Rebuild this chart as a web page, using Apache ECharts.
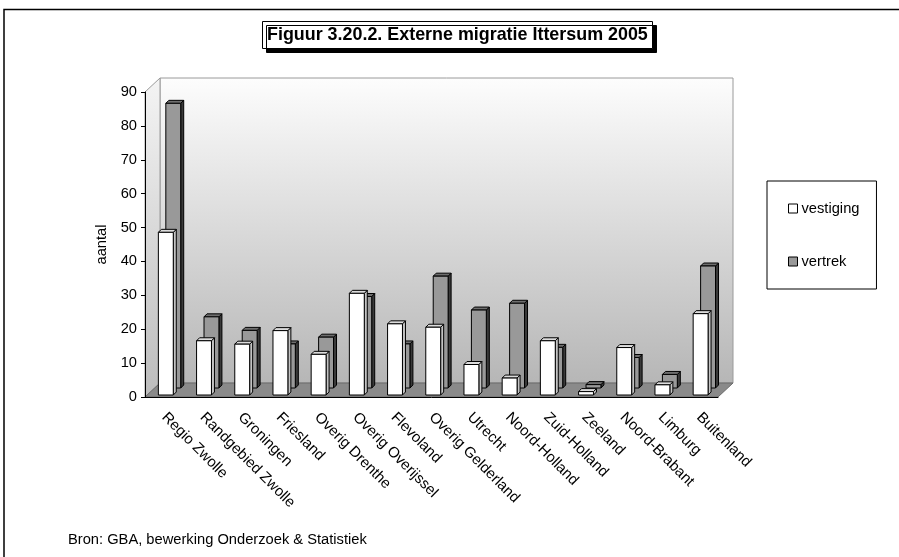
<!DOCTYPE html>
<html>
<head>
<meta charset="utf-8">
<script src="https://cdn.jsdelivr.net/npm/echarts@6/dist/echarts.min.js"></script>
<style>html,body{margin:0;padding:0;background:#fff}#c{width:899px;height:557px}</style>
</head>
<body>
<div id="c"></div>
<script>
var categories = ['Regio Zwolle','Randgebied Zwolle','Groningen','Friesland','Overig Drenthe','Overig Overijssel','Flevoland','Overig Gelderland','Utrecht','Noord-Holland','Zuid-Holland','Zeeland','Noord-Brabant','Limburg','Buitenland'];
var vestiging = [48, 16, 15, 19, 12, 30, 21, 20, 9, 5, 16, 1, 14, 3, 24];
var vertrek = [84, 21, 17, 13, 15, 27, 13, 33, 23, 25, 12, 1, 9, 4, 36];
var yTicks = [0, 10, 20, 30, 40, 50, 60, 70, 80, 90];

var FONT = '"Liberation Sans", Arial, sans-serif';
var GL = 145, GT = 92, GR = 718, GB = 397, DX = 15, DY = 14;

function makeRender(offX, offY, front, top, side) {
  return function (params, api) {
    var i = api.value(0), v = api.value(1);
    var base = api.coord([i, 0]);
    var tp = api.coord([i, v]);
    var w = api.size([1, 0])[0];
    var bw = w * 0.39, d = 3;
    var cx = base[0] + w * offX;
    var xl = cx - bw / 2, xr = cx + bw / 2;
    var yb = base[1] + offY, yt = tp[1] + offY;
    var st = {stroke: '#000', lineWidth: 1};
    return {type: 'group', children: [
      {type: 'polygon', shape: {points: [[xr, yb], [xr, yt], [xr + d, yt - d], [xr + d, yb - d]]}, style: Object.assign({fill: side}, st)},
      {type: 'polygon', shape: {points: [[xl, yt], [xl + d, yt - d], [xr + d, yt - d], [xr, yt]]}, style: Object.assign({fill: top}, st)},
      {type: 'rect', shape: {x: xl, y: yt, width: bw, height: yb - yt}, style: Object.assign({fill: front}, st)}
    ]};
  };
}

var chart = echarts.init(document.getElementById('c'), null, {renderer: 'canvas'});
chart.setOption({
  animation: false,
  textStyle: {fontFamily: FONT},
  title: {
    text: 'Figuur 3.20.2. Externe migratie Ittersum 2005',
    left: 262, top: 21,
    padding: [5, 5, 4, 5],
    borderColor: '#000', borderWidth: 1, backgroundColor: '#fff',
    shadowColor: '#000', shadowOffsetX: 4, shadowOffsetY: 4, shadowBlur: 0,
    textStyle: {fontFamily: FONT, fontSize: 17.9, fontWeight: 'bold', color: '#000', lineHeight: 19}
  },
  legend: {
    data: ['vestiging', 'vertrek'],
    orient: 'vertical',
    left: 767, top: 181,
    padding: [20, 17, 20, 21],
    itemGap: 38,
    itemWidth: 9, itemHeight: 9,
    icon: 'rect',
    borderColor: '#000', borderWidth: 1,
    itemStyle: {borderColor: '#000', borderWidth: 1},
    textStyle: {fontFamily: FONT, fontSize: 14.7, color: '#000', padding: [0, 0, 0, -1]}
  },
  grid: {left: GL, top: GT, right: 899 - GR, bottom: 557 - GB, containLabel: false},
  xAxis: {
    type: 'category',
    data: categories,
    boundaryGap: true,
    axisLine: {lineStyle: {color: '#000', width: 1}},
    axisTick: {length: 5, lineStyle: {color: '#000'}},
    axisLabel: {rotate: -45, margin: 18, interval: 0, color: '#000', fontFamily: FONT, fontSize: 14.9},
    splitLine: {show: false}
  },
  yAxis: {
    type: 'value',
    min: yTicks[0], max: yTicks[yTicks.length - 1], interval: yTicks[1] - yTicks[0],
    name: 'aantal', nameLocation: 'middle', nameGap: 34,
    nameTextStyle: {fontFamily: FONT, fontSize: 14.7, color: '#000'},
    axisLine: {show: true, lineStyle: {color: '#000', width: 1}},
    axisTick: {show: true, length: 4, lineStyle: {color: '#000'}},
    axisLabel: {margin: 8, color: '#000', fontFamily: FONT, fontSize: 14.7},
    splitLine: {show: false}
  },
  graphic: [
    {type: 'rect', z: -10, silent: true, shape: {x: 4, y: 9.5, width: 1000, height: 1000}, style: {fill: 'none', stroke: '#000', lineWidth: 1.5}},
    {type: 'polygon', z: -10, silent: true,
      shape: {points: [[GL + DX, GT - DY], [GR + DX, GT - DY], [GR + DX, GB - DY], [GL + DX, GB - DY]]},
      style: {fill: new echarts.graphic.LinearGradient(0, 0, 0, 1, [{offset: 0, color: '#fdfdfd'}, {offset: 1, color: '#b6b6b6'}]), stroke: '#9a9a9a', lineWidth: 1}},
    {type: 'polygon', z: -10, silent: true,
      shape: {points: [[GL, GT], [GL + DX, GT - DY], [GL + DX, GB - DY], [GL, GB]]},
      style: {fill: new echarts.graphic.LinearGradient(0, 0, 0, 1, [{offset: 0, color: '#f4f4f4'}, {offset: 1, color: '#bcbcbc'}]), stroke: '#9a9a9a', lineWidth: 1}},
    {type: 'polygon', z: -10, silent: true,
      shape: {points: [[GL, GB], [GL + DX, GB - DY], [GR + DX, GB - DY], [GR, GB]]},
      style: {fill: '#8a8a8a', stroke: '#6a6a6a', lineWidth: 1}},
    {type: 'text', silent: true, left: 68, top: 532,
      style: {text: 'Bron: GBA, bewerking Onderzoek & Statistiek', font: '14.7px ' + FONT, fill: '#000'}}
  ],
  series: [
    {
      name: 'vertrek', type: 'custom',
      renderItem: makeRender(0.24, -9, '#999999', '#6e6e6e', '#3a3a3a'),
      itemStyle: {color: '#999999'},
      encode: {x: 0, y: 1},
      data: vertrek.map(function (v, i) { return [i, v]; }),
      z: 2
    },
    {
      name: 'vestiging', type: 'custom',
      renderItem: makeRender(0.045, -2, '#ffffff', '#dcdcdc', '#c4c4c4'),
      itemStyle: {color: '#ffffff'},
      encode: {x: 0, y: 1},
      data: vestiging.map(function (v, i) { return [i, v]; }),
      z: 3
    }
  ]
});
</script>
</body>
</html>
